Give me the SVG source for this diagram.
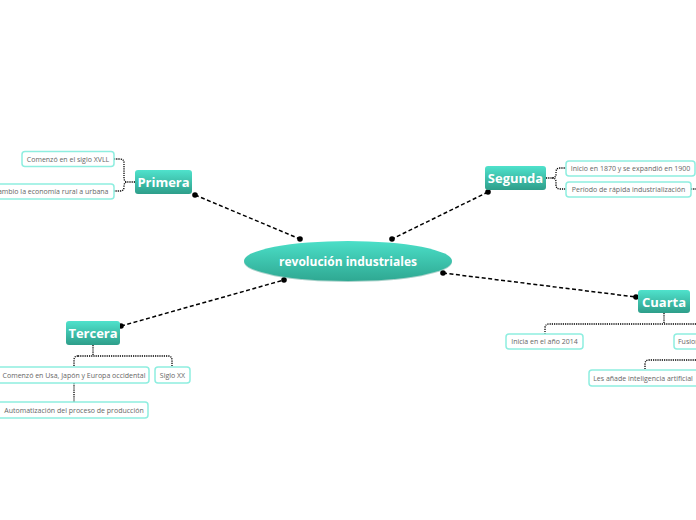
<svg xmlns="http://www.w3.org/2000/svg" width="696" height="520" viewBox="0 0 696 520">
<style>
.main{font-family:"Open Sans","Noto Sans",sans-serif;font-weight:bold;fill:#fff;text-anchor:middle}
.sub rect{fill:#fff;stroke:#8eeee0;stroke-width:1.5}
.sub text{font-family:"Open Sans","Noto Sans",sans-serif;font-size:7px;fill:#666;text-anchor:middle}
.dash{fill:none;stroke:#000;stroke-width:1.5;stroke-dasharray:4 2.5}
.dot{fill:none;stroke:#000;stroke-width:1.3;stroke-dasharray:1.2 1}
</style>
<defs>
<linearGradient id="g" x1="0" y1="0" x2="0" y2="1">
<stop offset="0" stop-color="#4fe2cc"/>
<stop offset="1" stop-color="#2e9e8a"/>
</linearGradient>
<linearGradient id="gc" x1="0" y1="0" x2="0" y2="1">
<stop offset="0" stop-color="#4bdfc8"/>
<stop offset="1" stop-color="#2fa892"/>
</linearGradient>
<marker id="d" markerWidth="6" markerHeight="6" refX="3" refY="3" markerUnits="userSpaceOnUse">
<circle cx="3" cy="3" r="2.8" fill="#000"/>
</marker>
</defs>
<g id="connectors">
<path class="dash" d="M195 195 L300 239" marker-start="url(#d)" marker-end="url(#d)"/>
<path class="dash" d="M488 192 L392 239" marker-start="url(#d)" marker-end="url(#d)"/>
<path class="dash" d="M443 273 L636 297" marker-start="url(#d)" marker-end="url(#d)"/>
<path class="dash" d="M121 326 L284 280" marker-start="url(#d)" marker-end="url(#d)"/>
<path class="dot" d="M135 182 H128 M114 159 H120 Q124 159 124 163 V178 Q124 182 128 182 Q124 182 124 186 V187 Q124 191 120 191 H114"/>
<path class="dot" d="M546 178 H552 Q556 178 556 174 V172 Q556 168 560 168 H566 M552 178 Q556 178 556 182 V185 Q556 189 560 189 H566"/>
<path class="dot" d="M691 189 H696"/>
<path class="dot" d="M664 313 V324 M696 324 H549 Q545 324 545 328 V334"/>
<path class="dot" d="M696 360 H649 Q645 360 645 364 V370"/>
<path class="dot" d="M93 345 V356 M78 356 H168 Q172 356 172 360 V367 M78 356 Q74 356 74 360 V367 M74 383 V402"/>
</g>
<g id="central">
<ellipse cx="348" cy="262" rx="104" ry="20" fill="#2a8f7c" opacity="0.4"/>
<ellipse cx="348" cy="261" rx="104" ry="20" fill="url(#gc)"/>
<text class="main" x="348" y="266" font-size="12">revolución industriales</text>
</g>
<g id="primera">
<rect x="135" y="170" width="57" height="24" rx="3" fill="url(#g)"/>
<text class="main" x="163.5" y="187" font-size="13">Primera</text>
</g>
<g id="segunda">
<rect x="485" y="166" width="61" height="24" rx="3" fill="url(#g)"/>
<text class="main" x="515.5" y="183" font-size="13">Segunda</text>
</g>
<g id="cuarta">
<rect x="638" y="290" width="52" height="23" rx="3" fill="url(#g)"/>
<text class="main" x="664" y="306.5" font-size="13">Cuarta</text>
</g>
<g id="tercera">
<rect x="66" y="321" width="54" height="24" rx="3" fill="url(#g)"/>
<text class="main" x="93" y="338" font-size="13">Tercera</text>
</g>
<g id="p1" class="sub"><rect x="22" y="151.5" width="92" height="15" rx="3"/><text x="68" y="161.5">Comenzó en el siglo XVLL</text></g>
<g id="p2" class="sub"><rect x="-12" y="184" width="126" height="15" rx="3"/><text x="51" y="194">Cambio la economía rural a urbana</text></g>
<g id="s1" class="sub"><rect x="566" y="161" width="129" height="15" rx="3"/><text x="630.5" y="171">Inicio en 1870 y se expandió en 1900</text></g>
<g id="s2" class="sub"><rect x="566" y="182" width="125" height="15" rx="3"/><text x="628.5" y="192">Período de rápida industrialización</text></g>
<g id="c1" class="sub"><rect x="506" y="334" width="77" height="15" rx="3"/><text x="544.5" y="344">Inicia en el año 2014</text></g>
<g id="c2" class="sub"><rect x="674" y="334" width="40" height="15" rx="3"/><text x="678" y="344" style="text-anchor:start">Fusiona</text></g>
<g id="c3" class="sub"><rect x="589" y="370" width="112" height="16" rx="3"/><text x="643" y="380.5">Les añade inteligencia artificial</text></g>
<g id="t1" class="sub"><rect x="-3" y="367" width="152" height="16" rx="3"/><text x="74" y="377.5">Comenzó en Usa, Japón y Europa occidental</text></g>
<g id="t2" class="sub"><rect x="155" y="367" width="35" height="16" rx="3"/><text x="172.5" y="377.5">Siglo XX</text></g>
<g id="t3" class="sub"><rect x="-3" y="402" width="151" height="16" rx="3"/><text x="74" y="412.5">Automatización del proceso de producción</text></g>
</svg>
